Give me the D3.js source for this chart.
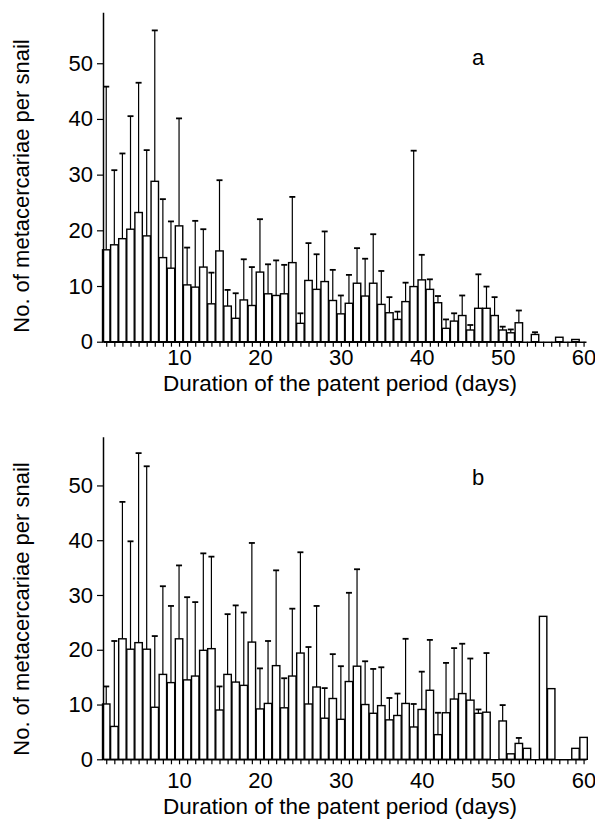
<!DOCTYPE html>
<html>
<head>
<meta charset="utf-8">
<script src="https://cdn.jsdelivr.net/npm/d3@7"></script>
<style>
  body { margin: 0; background: #fff; }
  svg { display: block; }
  text { font-family: "Liberation Sans", Arial, Helvetica, sans-serif; fill: #000; }
</style>
</head>
<body>
<svg id="canvas" width="595" height="821"></svg>
<script>
// day of patent period
const days = d3.range(1, 61);

// panel a: mean and SD per snail
const meanA = [16.5, 17.4, 18.5, 20.2, 23.2, 19.0, 28.8, 15.1, 13.2, 20.8,
               10.2, 9.8, 13.4, 6.8, 16.3, 6.4, 4.2, 7.5, 6.5, 12.5,
               8.6, 8.3, 8.6, 14.2, 3.3, 11.0, 9.4, 10.8, 7.4, 5.0,
               6.9, 10.5, 8.2, 10.5, 6.7, 5.2, 4.0, 7.2, 9.9, 11.1,
               9.4, 7.0, 2.4, 3.7, 4.7, 2.1, 6.0, 6.0, 4.7, 2.1,
               1.6, 3.4, 0, 1.3, 0, 0, 0.8, 0, 0.4, 0];
const sdA = [29.3, 13.4, 15.3, 20.3, 23.3, 15.4, 27.1, 10.5, 8.4, 19.3,
             6.7, 11.9, 6.8, 5.6, 12.7, 2.9, 4.5, 7.3, 6.9, 9.5,
             5.3, 6.3, 5.2, 11.8, 1.8, 6.7, 6.3, 9.0, 5.5, 3.3,
             5.1, 6.3, 6.7, 8.8, 6.0, 2.8, 1.4, 3.4, 24.4, 4.5,
             1.8, 1.2, 1.6, 1.4, 3.6, 0.9, 6.1, 3.9, 3.3, 0.6,
             0.6, 2.2, 0, 0.4, 0, 0, 0, 0, 0, 0];

// panel b
const meanB = [10.1, 6.0, 22.0, 20.1, 21.3, 20.1, 9.5, 15.5, 14.0, 22.0,
               14.5, 15.2, 19.9, 20.2, 9.0, 15.5, 14.1, 13.5, 21.4, 9.2,
               10.2, 17.1, 9.4, 15.2, 19.4, 10.1, 13.2, 7.5, 11.1, 7.3,
               14.2, 17.0, 10.0, 8.4, 9.8, 7.2, 8.0, 10.2, 5.9, 9.1,
               12.6, 4.5, 8.5, 11.0, 12.0, 10.8, 8.4, 8.6, 0, 7.0,
               1.0, 2.9, 2.0, 0, 26.1, 12.9, 0, 0, 2.0, 4.0];
const sdB = [3.2, 15.6, 25.0, 19.7, 34.6, 33.4, 13.0, 16.1, 14.0, 13.4,
             15.1, 13.5, 17.7, 16.8, 4.3, 11.0, 14.0, 13.3, 18.1, 7.4,
             11.4, 17.4, 5.4, 12.3, 18.4, 10.4, 14.8, 5.5, 8.1, 9.7,
             16.2, 17.7, 7.9, 8.1, 7.0, 4.0, 4.0, 11.8, 4.2, 6.9,
             9.2, 4.0, 9.1, 9.3, 9.1, 7.6, 0.7, 10.8, 0, 2.9,
             0, 1.0, 0, 0, 0, 0, 0, 0, 0, 0];

const yTicks = [0, 10, 20, 30, 40, 50];
const xTickLabels = [10, 20, 30, 40, 50, 60];
const panelLetters = ["a", "b"];

const canvas = d3.select("#canvas");

const x = d3.scaleLinear().domain([0.6, 60.3]).range([103, 586]);

const generatePanel = (opts) => {
    const { mean, sd, letter, y0, yTop, yMax, labelPad, xTitleY, yTitleY, letterY } = opts;
    const y = d3.scaleLinear().domain([0, yMax]).range([y0, yTop]);
    const g = canvas.append("g");

    const data = days.map((d, i) => ({ day: d, mean: mean[i], sd: sd[i] }));

    // error bars (upper only)
    const err = g.selectAll(".err")
        .data(data.filter((d) => d.sd > 0))
        .enter()
        .append("g")
        .attr("class", "err");
    err.append("line")
        .attr("x1", (d) => x(d.day))
        .attr("x2", (d) => x(d.day))
        .attr("y1", (d) => y(d.mean))
        .attr("y2", (d) => y(d.mean + d.sd))
        .attr("stroke", "#000")
        .attr("stroke-width", 1.2);
    err.append("line")
        .attr("x1", (d) => x(d.day) - 3)
        .attr("x2", (d) => x(d.day) + 3)
        .attr("y1", (d) => y(d.mean + d.sd))
        .attr("y2", (d) => y(d.mean + d.sd))
        .attr("stroke", "#000")
        .attr("stroke-width", 1.8);

    g.selectAll(".bar")
        .data(data.filter((d) => d.mean > 0))
        .enter()
        .append("rect")
        .attr("class", "bar")
        .attr("x", (d) => x(d.day - 0.46))
        .attr("width", x(0.92) - x(0))
        .attr("y", (d) => y(d.mean))
        .attr("height", (d) => y(0) - y(d.mean))
        .attr("fill", "#fff")
        .attr("stroke", "#000")
        .attr("stroke-width", 1.4);

    // axes
    const yAxis = g.append("g")
        .attr("transform", `translate(${x.range()[0]},0)`)
        .call(d3.axisLeft(y).tickValues(yTicks).tickSize(6).tickSizeOuter(0).tickPadding(4));
    const xAxis = g.append("g")
        .attr("transform", `translate(0,${y0})`)
        .call(d3.axisBottom(x).tickValues(days).tickSize(5).tickSizeOuter(0).tickPadding(labelPad)
            .tickFormat((d) => (xTickLabels.includes(d) ? d : "")));
    [yAxis, xAxis].forEach((ax) => {
        ax.select(".domain").attr("stroke", "#000").attr("stroke-width", 1.5);
        ax.selectAll(".tick line").attr("stroke", "#000").attr("stroke-width", 1.2);
        ax.selectAll("text").attr("font-size", 22).attr("fill", "#000")
            .style("font-family", "'Liberation Sans', Arial, sans-serif");
    });

    g.append("text")
        .attr("x", 340)
        .attr("y", xTitleY)
        .attr("text-anchor", "middle")
        .attr("font-size", 22.5)
        .text("Duration of the patent period (days)");

    g.append("text")
        .attr("transform", `translate(29,${yTitleY}) rotate(-90)`)
        .attr("text-anchor", "middle")
        .attr("font-size", 22)
        .text("No. of metacercariae per snail");

    g.append("text")
        .attr("x", 478)
        .attr("y", letterY)
        .attr("text-anchor", "middle")
        .attr("font-size", 22)
        .text(letter);
};

generatePanel({ mean: meanA, sd: sdA, letter: panelLetters[0], y0: 341.7, yTop: 12.3, yMax: 59.15,
    labelPad: 3, xTitleY: 391, yTitleY: 186, letterY: 65 });
generatePanel({ mean: meanB, sd: sdB, letter: panelLetters[1], y0: 759.3, yTop: 436.7, yMax: 58.9,
    labelPad: 8, xTitleY: 814, yTitleY: 609, letterY: 485 });
</script>
</body>
</html>
